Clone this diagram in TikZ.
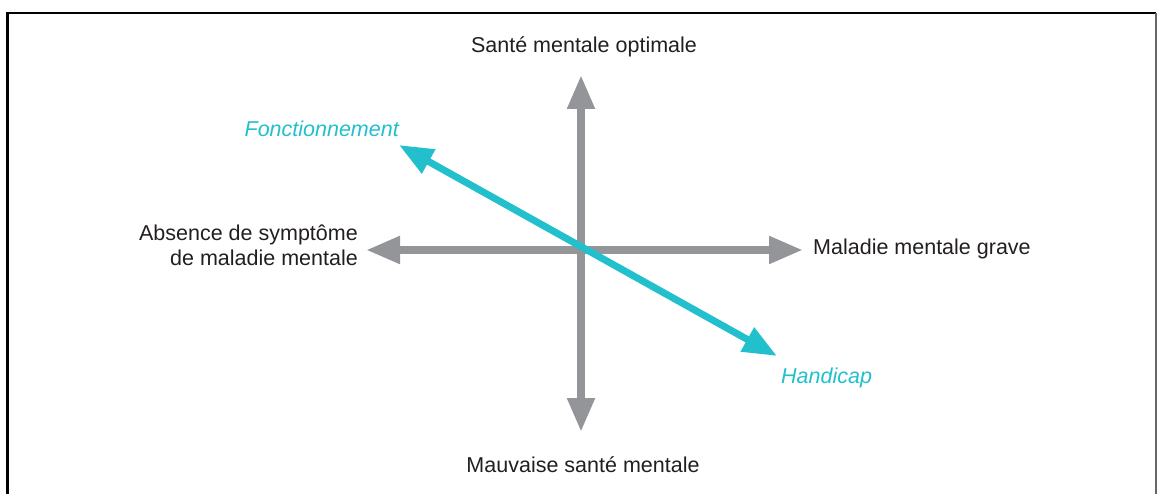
\documentclass[tikz,border=0pt]{standalone}
\usepackage{fontspec}
\setmainfont{Liberation Sans}
\usetikzlibrary{arrows.meta}
\definecolor{axisgray}{HTML}{939598}
\definecolor{tealc}{HTML}{22BFCC}
\definecolor{txt}{HTML}{231F20}
\tikzset{
  axis/.style={draw=axisgray, line width=8pt,
    {Triangle[length=34pt,width=26pt]}-{Triangle[length=34pt,width=26pt]}},
  tealarrow/.style={draw=tealc, line width=7pt,
    {Triangle[length=34pt,width=26pt]}-{Triangle[length=34pt,width=26pt]}},
  lbl/.style={inner sep=0pt, text=txt, font=\fontsize{21.5}{25}\selectfont},
  tlbl/.style={inner sep=0pt, text=tealc, font=\fontsize{21.5}{25}\selectfont\itshape},
}
\begin{document}
\begin{tikzpicture}[x=1pt,y=-1pt]
\useasboundingbox (0,0) rectangle (1157,494);
% frame
\draw[line width=2.2pt, black] (7.5,494) -- (7.5,13) -- (1156,13);
\draw[line width=1.5pt, black!60] (1156,13) -- (1156,494);
% end points
\coordinate (top) at (581,75);
\coordinate (bottom) at (581,432);
\coordinate (left) at (366,250);
\coordinate (right) at (803,250);
\coordinate (func) at (399,145);
\coordinate (hand) at (777,356);
% arrows
\draw[axis] (bottom) -- (top);
\draw[axis] (left) -- (right);
\draw[tealarrow] (hand) -- (func);
% labels
\node[lbl, anchor=base] (lopt) at (584,53) {Santé mentale optimale};
\node[lbl, anchor=base] (lbad) at (583,472) {Mauvaise santé mentale};
\node[lbl, anchor=base west] (lgrave) at (813,255) {Maladie mentale grave};
\node[lbl, anchor=base east] (labs1) at (358,241) {Absence de symptôme};
\node[lbl, anchor=base east] (labs2) at (358,266) {de maladie mentale};
\node[tlbl, anchor=base east] (lfonc) at (399,137) {Fonctionnement};
\node[tlbl, anchor=base west] (lhand) at (781,383) {Handicap};
\end{tikzpicture}
\end{document}
